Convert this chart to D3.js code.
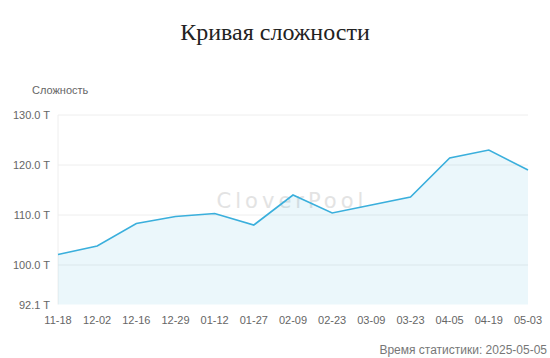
<!DOCTYPE html>
<html>
<head>
<meta charset="utf-8">
<script src="https://cdn.jsdelivr.net/npm/d3@7"></script>
<style>
  body { margin: 0; background: #fff; }
  svg { display: block; font-family: "Liberation Sans", Arial, sans-serif; }
</style>
</head>
<body>
<div id="chart"></div>
<script>
const width = 550, height = 358;

// data
const dates = ['11-18','12-02','12-16','12-29','01-12','01-27','02-09','02-23','03-09','03-23','04-05','04-19','05-03'];
const difficulty = [102.1, 103.8, 108.3, 109.7, 110.3, 108.0, 114.0, 110.4, 112.0, 113.6, 121.4, 123.0, 119.0];
const yTicks = [92.1, 100, 110, 120, 130];

const margin = {top: 115, right: 22, bottom: 53.5, left: 58};

const svg = d3.select('#chart').append('svg')
  .attr('width', width).attr('height', height);

const x = d3.scalePoint().domain(dates).range([margin.left, width - margin.right]);
const y = d3.scaleLinear().domain([92.1, 130]).range([height - margin.bottom, margin.top]);

// title
svg.append('text')
  .attr('x', width / 2).attr('y', 40)
  .attr('text-anchor', 'middle')
  .style('font-family', '"Liberation Serif", "Times New Roman", serif')
  .style('font-size', '24px')
  .attr('fill', '#222')
  .text('Кривая сложности');

// y axis name
svg.append('text')
  .attr('x', 32).attr('y', 94)
  .style('font-size', '11px')
  .attr('fill', '#666')
  .text('Сложность');

// grid lines
svg.append('g')
  .selectAll('line')
  .data(yTicks.filter(d => d !== 92.1))
  .join('line')
  .attr('x1', margin.left).attr('x2', width - margin.right)
  .attr('y1', d => y(d)).attr('y2', d => y(d))
  .attr('stroke', '#eeeeee');

// left axis line
svg.append('line')
  .attr('x1', margin.left).attr('x2', margin.left)
  .attr('y1', y(130)).attr('y2', y(92.1))
  .attr('stroke', '#eeeeee');

// y tick labels
svg.append('g')
  .selectAll('text')
  .data(yTicks)
  .join('text')
  .attr('x', 50).attr('y', d => y(d) + 4)
  .attr('text-anchor', 'end')
  .style('font-size', '11px')
  .attr('fill', '#666')
  .text(d => d.toFixed(1) + ' T');

// x tick labels
svg.append('g')
  .selectAll('text')
  .data(dates)
  .join('text')
  .attr('x', d => x(d)).attr('y', 324)
  .attr('text-anchor', 'middle')
  .style('font-size', '11px')
  .attr('fill', '#666')
  .text(d => d);

// watermark
svg.append('text')
  .attr('x', 292).attr('y', 208)
  .attr('text-anchor', 'middle')
  .style('font-family', '"DejaVu Sans", sans-serif')
  .style('font-size', '21px')
  .style('letter-spacing', '4px')
  .attr('fill', '#e3e3e3')
  .text('CloverPool');

const pts = dates.map((d, i) => [d, difficulty[i]]);

// area
svg.append('path')
  .datum(pts)
  .attr('fill', 'rgba(58,176,220,0.1)')
  .attr('d', d3.area().x(d => x(d[0])).y0(y(92.1)).y1(d => y(d[1])));

// line
svg.append('path')
  .datum(pts)
  .attr('fill', 'none')
  .attr('stroke', '#3aafdc')
  .attr('stroke-width', 1.6)
  .attr('d', d3.line().x(d => x(d[0])).y(d => y(d[1])));

// footer
svg.append('text')
  .attr('x', 547).attr('y', 354)
  .attr('text-anchor', 'end')
  .style('font-size', '12px')
  .attr('fill', '#777')
  .text('Время статистики: 2025-05-05');
</script>
</body>
</html>
